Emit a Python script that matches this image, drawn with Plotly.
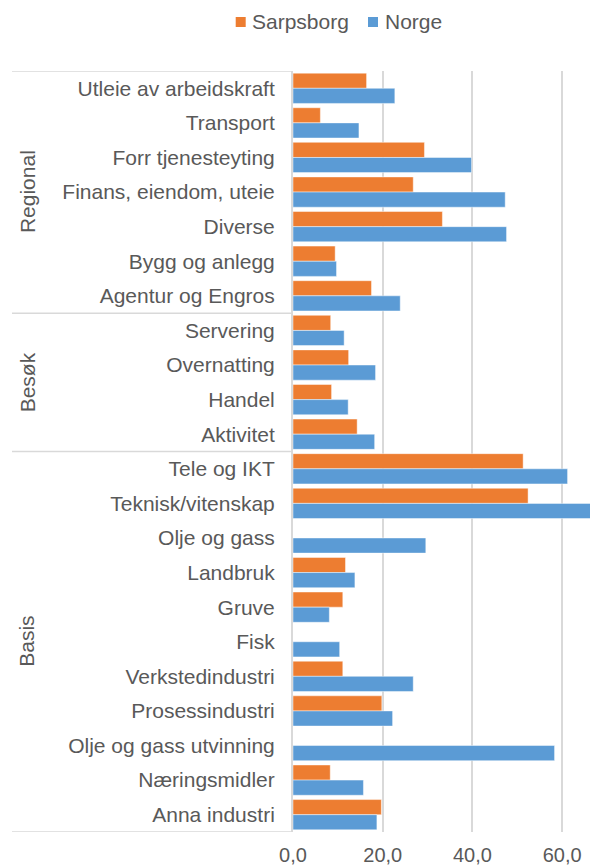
import plotly.graph_objects as go

# Næringer, gruppert etter type (fra topp til bunn)
groups = ["Regional", "Besøk", "Basis"]
regional = ["Utleie av arbeidskraft", "Transport", "Forr tjenesteyting",
            "Finans, eiendom, uteie", "Diverse", "Bygg og anlegg", "Agentur og Engros"]
besok = ["Servering", "Overnatting", "Handel", "Aktivitet"]
basis = ["Tele og IKT", "Teknisk/vitenskap", "Olje og gass", "Landbruk", "Gruve",
         "Fisk", "Verkstedindustri", "Prosessindustri", "Olje og gass utvinning",
         "Næringsmidler", "Anna industri"]
categories = regional + besok + basis

sarpsborg_regional = [16.4, 6.1, 29.3, 26.8, 33.3, 9.4, 17.5]
sarpsborg_besok = [8.4, 12.4, 8.6, 14.3]
sarpsborg_basis = [51.3, 52.4, None, 11.7, 11.1, None, 11.1, 19.8, None, 8.3, 19.7]

norge_regional = [22.7, 14.7, 39.8, 47.3, 47.6, 9.7, 23.9]
norge_besok = [11.4, 18.4, 12.3, 18.2]
norge_basis = [61.2, 68.0, 29.6, 13.8, 8.1, 10.4, 26.8, 22.2, 58.3, 15.7, 18.7]

sarpsborg = sarpsborg_regional + sarpsborg_besok + sarpsborg_basis
norge = norge_regional + norge_besok + norge_basis

series_names = ["Sarpsborg", "Norge"]
x_ticks = [0, 20, 40, 60]

ORANGE = "#ED7D31"
BLUE = "#5B9BD5"
TEXT = "#595959"
GRID = "#D9D9D9"
FONT = "Liberation Sans, Arial, sans-serif"

W, H = 590, 867
ML, MR, MT, MB = 293, 0, 71, 35
PW, PH = W - ML - MR, H - MT - MB


def px_x(px):
    """Horizontal pixel position -> paper coordinate."""
    return (px - ML) / PW


def px_y(py):
    """Vertical pixel position -> paper coordinate."""
    return 1 + (MT - py) / PH


fig = go.Figure()
for name, vals, col in zip(series_names, [sarpsborg, norge], [ORANGE, BLUE]):
    fig.add_trace(go.Bar(y=categories, x=vals, name=name, orientation="h",
                         showlegend=False,
                         marker=dict(color=col,
                                     line=dict(color="rgba(255,255,255,0.45)", width=1))))

shapes = []
annotations = []

# Compact legend above the plot: small square followed closely by the label
legend_pos = [(235.7, 251), (368, 384)]
for name, col, (sq_x, tx_x) in zip(series_names, [ORANGE, BLUE], legend_pos):
    shapes.append(dict(type="rect", xref="paper", yref="paper",
                       x0=px_x(sq_x), x1=px_x(sq_x + 10), y0=px_y(27), y1=px_y(17),
                       fillcolor=col, line=dict(width=0)))
    annotations.append(dict(text=name, xref="paper", yref="paper", x=px_x(tx_x),
                            y=px_y(22), xanchor="left", yanchor="middle", showarrow=False,
                            borderpad=0, font=dict(size=21, color=TEXT, family=FONT)))

# Group dividers and rotated group labels on the left
members = [regional, besok, basis]
LINE_X0 = px_x(12)
shapes.append(dict(type="line", xref="paper", yref="y", x0=LINE_X0, x1=0,
                   y0=-0.5, y1=-0.5, line=dict(color=GRID, width=1.5)))
start = 0
for name, items in zip(groups, members):
    end = start + len(items)
    shapes.append(dict(type="line", xref="paper", yref="y", x0=LINE_X0, x1=0,
                       y0=end - 0.5, y1=end - 0.5, line=dict(color=GRID, width=1.5)))
    annotations.append(dict(text=name, xref="paper", yref="y", x=px_x(27),
                            y=(start + end - 1) / 2, showarrow=False, textangle=-90,
                            font=dict(size=21, color=TEXT, family=FONT),
                            xanchor="center", yanchor="middle"))
    start = end

fig.update_layout(
    width=W, height=H,
    margin=dict(l=ML, r=MR, t=MT, b=MB),
    paper_bgcolor="white", plot_bgcolor="white",
    barmode="group", bargap=0.125, bargroupgap=0,
    separators=", ",
    font=dict(family=FONT, size=21, color=TEXT),
    showlegend=False,
    shapes=shapes,
    annotations=annotations,
    xaxis=dict(range=[0, 66.2], tickvals=x_ticks, tickformat=".1f",
               showgrid=True, gridcolor=GRID, gridwidth=1.5, zeroline=False,
               showline=False, ticks="", ticklabelstandoff=9,
               tickfont=dict(size=20, color=TEXT)),
    yaxis=dict(type="category", range=[len(categories) - 0.5, -0.5],
               showgrid=False, showline=True, linecolor=GRID, linewidth=2,
               ticks="", ticklabelstandoff=12, tickfont=dict(size=21, color=TEXT)),
)

fig.write_html("out.html")
